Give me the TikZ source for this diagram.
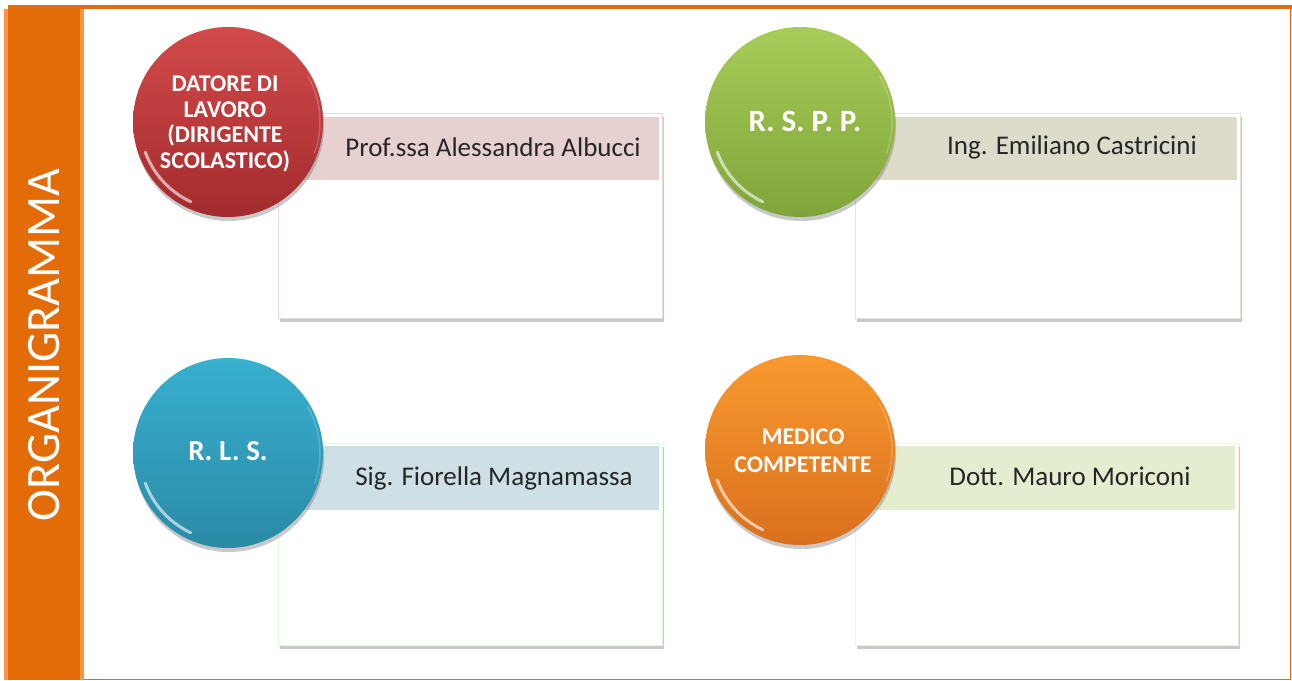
\documentclass[tikz,border=0pt]{standalone}
\usepackage{fontspec}
\setmainfont{Carlito}
\usetikzlibrary{shadows}
\definecolor{ordark}{HTML}{E36C09}
\definecolor{orlight}{HTML}{F79646}
\definecolor{redtop}{HTML}{D24A4A}
\definecolor{redbot}{HTML}{A32B2D}
\definecolor{grntop}{HTML}{A8CC58}
\definecolor{grnbot}{HTML}{7FA53A}
\definecolor{blutop}{HTML}{38B0CF}
\definecolor{blubot}{HTML}{2A8AA6}
\definecolor{orgtop}{HTML}{F9992F}
\definecolor{orgbot}{HTML}{D9701E}
\definecolor{hdred}{HTML}{E6D0D0}
\definecolor{hdgrn}{HTML}{DDDCCB}
\definecolor{hdblu}{HTML}{CFDFE6}
\definecolor{hdorg}{HTML}{E4EDCF}
\definecolor{txt}{HTML}{262626}
\tikzset{
  x=1pt, y=-1pt,
  card/.style={draw=#1, line width=0.8pt, fill=white,
    drop shadow={shadow xshift=2pt, shadow yshift=-4pt, opacity=0.35, fill=black!60}},
  band/.style={fill=#1, draw=none},
  ball/.style 2 args={circle, minimum size=190pt, inner sep=0pt, top color=#1, bottom color=#2, draw=none,
    drop shadow={shadow xshift=1pt, shadow yshift=-4pt, opacity=0.35, fill=black!60}},
  balltext/.style={text=white, font=\bfseries\fontsize{24}{25.5}\selectfont, align=center},
  nametext/.style={text=txt, font=\fontsize{27}{30}\selectfont},
  gloss/.style={white, line width=3pt, opacity=0.6, line cap=round},
  rim/.style={white, opacity=0.2, line width=1.5pt},
}
\begin{document}
\begin{tikzpicture}
\useasboundingbox (0,0) rectangle (1292,680);
\fill[white] (0,0) rectangle (1292,680);
% frame
\fill[ordark] (8,5) rectangle (1292,9);
\draw[ordark, line width=1pt] (1290.5,9) -- (1290.5,679);
\draw[ordark, line width=1pt] (84,679) -- (1291,679);
\fill[orlight] (4,9) rectangle (84,680);
\fill[ordark] (8,9) rectangle (80,680);
\node[rotate=90, text=white, font=\fontsize{48}{52}\selectfont] (title) at (44,345) {ORGANIGRAMMA};

% cards
\node[card=hdred!80, minimum width=384pt, minimum height=205pt, anchor=north west, inner sep=0pt] (c1) at (278,113) {};
\fill[band=hdred] (278,117) rectangle (659,180);
\node[nametext] (n1) at (493,147) {Prof.ssa Alessandra Albucci};

\node[card=hdgrn!80, minimum width=385pt, minimum height=205pt, anchor=north west, inner sep=0pt] (c2) at (855,113) {};
\fill[band=hdgrn] (855,117) rectangle (1237,180);
\node[nametext] (n2) at (1072,147) {Ing. Emiliano Castricini};

\node[card=green!15, minimum width=384pt, minimum height=202pt, anchor=north west, inner sep=0pt] (c3) at (278,443) {};
\fill[band=hdblu] (278,446) rectangle (659,510);
\node[nametext] (n3) at (494,478) {Sig. Fiorella Magnamassa};

\node[card=orange!15, minimum width=383pt, minimum height=202pt, anchor=north west, inner sep=0pt] (c4) at (855,443) {};
\fill[band=hdorg] (855,446) rectangle (1235,510);
\node[nametext] (n4) at (1070,476) {Dott. Mauro Moriconi};

% balls
\node[ball={redtop}{redbot}] (b1) at (228,122) {};
\draw[gloss] (b1.center) ++(115:88) arc (115:160:88);
\draw[rim] (b1.center) ++(-30:92) arc (-30:20:92);
\node[balltext] (t1) at (225,124) {DATORE DI\\LAVORO\\(DIRIGENTE\\SCOLASTICO)};

\node[ball={grntop}{grnbot}] (b2) at (800,122) {};
\draw[gloss] (b2.center) ++(115:88) arc (115:160:88);
\draw[rim] (b2.center) ++(-30:92) arc (-30:20:92);
\node[balltext, font=\bfseries\fontsize{31}{34}\selectfont] (t2) at (805,121) {R. S. P. P.};

\node[ball={blutop}{blubot}] (b3) at (228,453) {};
\draw[gloss] (b3.center) ++(115:88) arc (115:160:88);
\draw[rim] (b3.center) ++(-30:92) arc (-30:20:92);
\node[balltext, font=\bfseries\fontsize{29}{32}\selectfont] (t3) at (228,451) {R. L. S.};

\node[ball={orgtop}{orgbot}] (b4) at (800,450) {};
\draw[gloss] (b4.center) ++(115:88) arc (115:160:88);
\draw[rim] (b4.center) ++(-30:92) arc (-30:20:92);
\node[balltext, font=\bfseries\fontsize{24}{28}\selectfont] (t4) at (803,451) {MEDICO\\COMPETENTE};
\end{tikzpicture}
\end{document}
